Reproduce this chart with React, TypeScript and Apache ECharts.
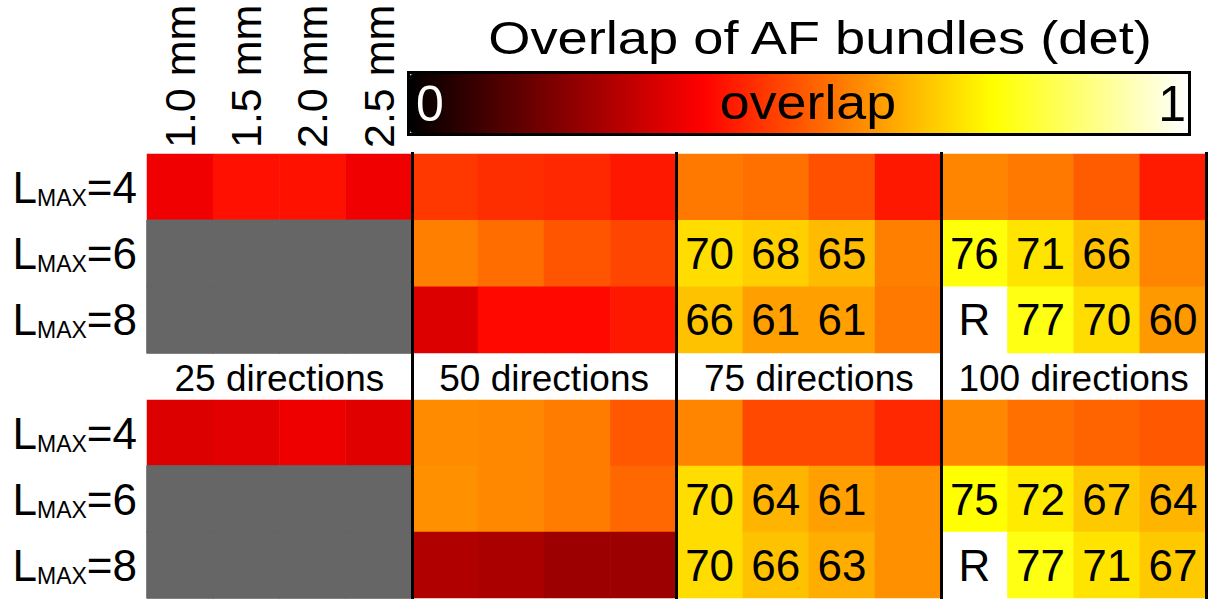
import React, { useEffect, useRef } from "react";
import * as echarts from "echarts";

// Column groups (number of gradient directions) and step sizes within each group
const directions = ["25 directions", "50 directions", "75 directions", "100 directions"];
const stepSizes = ["1.0 mm", "1.5 mm", "2.0 mm", "2.5 mm"];
const lmaxValues = ["4", "6", "8"];

// Overlap per row (LMAX = 4, 6, 8), 16 columns = 4 direction groups x 4 step sizes.
// null marks a configuration that was not computed; 1 is the reference run (R).
const upperL4 = [0.353, 0.398, 0.4, 0.353, 0.457, 0.443, 0.434, 0.41, 0.551, 0.54, 0.493, 0.41, 0.569, 0.551, 0.51, 0.415];
const upperL6 = [null, null, null, null, 0.563, 0.534, 0.499, 0.478, 0.7, 0.68, 0.65, 0.563, 0.76, 0.71, 0.66, 0.569];
const upperL8 = [null, null, null, null, 0.325, 0.387, 0.387, 0.41, 0.66, 0.61, 0.61, 0.551, 1, 0.77, 0.7, 0.6];

const lowerL4 = [0.325, 0.334, 0.35, 0.33, 0.581, 0.575, 0.557, 0.505, 0.569, 0.481, 0.481, 0.434, 0.575, 0.54, 0.522, 0.505];
const lowerL6 = [null, null, null, null, 0.587, 0.575, 0.557, 0.528, 0.7, 0.64, 0.61, 0.587, 0.75, 0.72, 0.67, 0.64];
const lowerL8 = [null, null, null, null, 0.259, 0.25, 0.23, 0.23, 0.7, 0.66, 0.63, 0.587, 1, 0.77, 0.71, 0.67];

// Values at or above this get their percentage printed in the cell
const labelThreshold = 0.6;

// "hot" colour map, sampled at every 1/8 (it is piecewise linear between these)
const hotStops = ["#000000", "#550000", "#aa0000", "#ff0000", "#ff5500", "#ffaa00", "#ffff00", "#ffff80", "#ffffff"];
const missingColor = "#666666";

const FONT = '"Liberation Sans", Arial, Helvetica, sans-serif';

const columns = directions.flatMap((d) => stepSizes.map((s) => `${d} ${s}`));

type Cell = [number, number, number];

function buildCells(rows: (number | null)[][]) {
  const values: Cell[] = [];
  const missing: Cell[] = [];
  rows.forEach((row, y) => {
    row.forEach((v, x) => {
      if (v === null) missing.push([x, y, 0]);
      else values.push([x, y, v]);
    });
  });
  return { values, missing };
}

const upper = buildCells([upperL4, upperL6, upperL8]);
const lower = buildCells([lowerL4, lowerL6, lowerL8]);

function cellLabel(p: any): string {
  const v = p.value[2] as number;
  if (v >= 1) return "R";
  if (v >= labelThreshold) return String(Math.round(v * 100));
  return "";
}

const GRID_LEFT = 147;
const GRID_WIDTH = 1059;

function lmaxAxis(gridIndex: number) {
  return {
    type: "category" as const,
    gridIndex,
    data: lmaxValues,
    inverse: true,
    axisLine: { show: false },
    axisTick: { show: false },
    splitLine: { show: false },
    axisLabel: {
      margin: 10,
      formatter: (v: string) => `{l|L}{s|MAX}{l|=${v}}`,
      rich: {
        l: { fontSize: 44, fontFamily: FONT, color: "#000", lineHeight: 44, verticalAlign: "bottom" },
        s: { fontSize: 23, fontFamily: FONT, color: "#000", lineHeight: 29, verticalAlign: "bottom" },
      },
    },
  };
}

function heatSeries(data: Cell[], xAxisIndex: number, yAxisIndex: number) {
  return {
    type: "heatmap" as const,
    xAxisIndex,
    yAxisIndex,
    data,
    itemStyle: { borderWidth: 0 },
    emphasis: { disabled: true },
    label: {
      show: true,
      formatter: cellLabel,
      fontSize: 44,
      fontFamily: FONT,
      color: "#000",
    },
  };
}

function missingSeries(data: Cell[], xAxisIndex: number, yAxisIndex: number) {
  return {
    type: "heatmap" as const,
    xAxisIndex,
    yAxisIndex,
    data,
    itemStyle: { borderWidth: 1, borderColor: missingColor },
    emphasis: { disabled: true },
    label: { show: false },
  };
}

const groupBoundary = (i: number) => i > 0 && i < columns.length && i % stepSizes.length === 0;

export default function App() {
  const ref = useRef<HTMLDivElement>(null);

  useEffect(() => {
    document.body.style.margin = "0";
    if (!ref.current) return;
    const chart = echarts.init(ref.current, undefined, { renderer: "svg" });

    chart.setOption({
      animation: false,
      textStyle: { fontFamily: FONT },
      grid: [
        { left: GRID_LEFT, top: 154, width: GRID_WIDTH, height: 199 },
        { left: GRID_LEFT, top: 400, width: GRID_WIDTH, height: 198 },
        { left: GRID_LEFT, top: 152, width: GRID_WIDTH, height: 447 },
      ],
      xAxis: [
        {
          type: "category",
          gridIndex: 0,
          position: "top",
          data: columns,
          axisLine: { show: false },
          axisTick: { show: false },
          splitLine: { show: false },
          axisLabel: {
            interval: 0,
            rotate: -90,
            margin: 6,
            fontSize: 43,
            fontFamily: FONT,
            color: "#000",
            formatter: (_v: string, i: number) => (i < stepSizes.length ? stepSizes[i] : ""),
          },
        },
        {
          type: "category",
          gridIndex: 0,
          position: "bottom",
          data: directions,
          axisLine: { show: false },
          axisTick: { show: false },
          splitLine: { show: false },
          axisLabel: { interval: 0, margin: 7, fontSize: 37, fontFamily: FONT, color: "#000" },
        },
        {
          type: "category",
          gridIndex: 1,
          data: columns,
          axisLine: { show: false },
          axisTick: { show: false },
          splitLine: { show: false },
          axisLabel: { show: false },
        },
        {
          // group separators drawn over both blocks and the label band
          type: "category",
          gridIndex: 2,
          data: columns,
          z: 10,
          axisLine: { show: false },
          axisTick: { show: false, interval: (i: number) => groupBoundary(i) },
          axisLabel: { show: false },
          splitLine: {
            show: true,
            interval: (i: number) => groupBoundary(i),
            lineStyle: { color: "#000", width: 3 },
          },
        },
      ],
      yAxis: [
        lmaxAxis(0),
        lmaxAxis(1),
        { type: "value", gridIndex: 2, show: false, min: 0, max: 1 },
      ],
      visualMap: [
        {
          type: "continuous",
          min: 0,
          max: 1,
          seriesIndex: [0, 1],
          orient: "horizontal",
          left: 410,
          top: 74,
          itemWidth: 59,
          itemHeight: 778,
          padding: 0,
          calculable: false,
          hoverLink: false,
          inRange: { color: hotStops },
        },
        {
          // cells without a result are shaded uniformly
          type: "continuous",
          show: false,
          min: 0,
          max: 1,
          seriesIndex: [2, 3],
          inRange: { color: [missingColor, missingColor] },
        },
      ],
      series: [
        heatSeries(upper.values, 0, 0),
        heatSeries(lower.values, 2, 1),
        missingSeries(upper.missing, 0, 0),
        missingSeries(lower.missing, 2, 1),
      ],
      graphic: [
        {
          type: "text",
          z: 100,
          x: 820,
          y: 38,
          scaleX: 1.18,
          style: { text: "Overlap of AF bundles (det)", fontSize: 46, fontFamily: FONT, fill: "#000", align: "center", verticalAlign: "middle" },
        },
        {
          type: "rect",
          z: 100,
          shape: { x: 408.5, y: 72.5, width: 781, height: 62 },
          style: { fill: "none", stroke: "#000", lineWidth: 3 },
        },
        {
          type: "text",
          z: 101,
          x: 416,
          y: 104,
          style: { text: "0", fontSize: 50, fontFamily: FONT, fill: "#fff", align: "left", verticalAlign: "middle" },
        },
        {
          type: "text",
          z: 101,
          x: 808,
          y: 103,
          scaleX: 1.12,
          style: { text: "overlap", fontSize: 48, fontFamily: FONT, fill: "#000", align: "center", verticalAlign: "middle" },
        },
        {
          type: "text",
          z: 101,
          x: 1186,
          y: 104,
          style: { text: "1", fontSize: 50, fontFamily: FONT, fill: "#000", align: "right", verticalAlign: "middle" },
        },
      ],
    });

    return () => chart.dispose();
  }, []);

  return <div ref={ref} style={{ width: 1209, height: 599 }} />;
}
